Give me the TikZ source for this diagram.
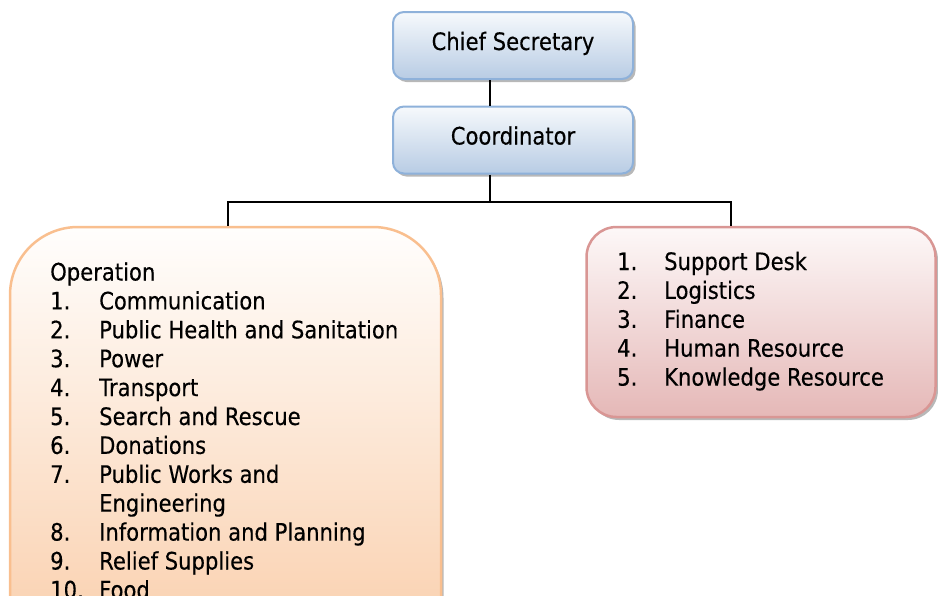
\documentclass[tikz,border=0pt]{standalone}
\usepackage{fontspec}
\setmainfont[FakeStretch=0.88,FakeBold=0.3]{DejaVu Sans}
\usetikzlibrary{shadows}
\definecolor{bluebord}{HTML}{8EB1DA}
\definecolor{bluetop}{HTML}{F6F9FC}
\definecolor{bluebot}{HTML}{B8CCE4}
\definecolor{orabord}{HTML}{F9BF8F}
\definecolor{oratop}{HTML}{FFFEFD}
\definecolor{orabot}{HTML}{F9C9A2}
\definecolor{pinkbord}{HTML}{D99694}
\definecolor{pinktop}{HTML}{FDF8F8}
\definecolor{pinkbot}{HTML}{E5B8B7}
\begin{document}
\begin{tikzpicture}[x=1pt,y=-1pt,
  every node/.style={font=\fontsize{24}{28.9}\selectfont, text=black},
  shadowed/.style={drop shadow={shadow xshift=2.5pt, shadow yshift=-3pt, opacity=0.35, fill=black!80}},
  bluebox/.style={draw=bluebord, line width=2pt, rounded corners=11pt,
    top color=bluetop, bottom color=bluebot, minimum width=240pt, minimum height=67pt,
    inner sep=0pt, text height=17.5pt, text depth=8.5pt, shadowed},
  orabox/.style={draw=orabord, line width=2.5pt, rounded corners=68pt,
    top color=oratop, bottom color=orabot, minimum width=431pt, minimum height=473pt,
    inner sep=0pt, shadowed},
  pinkbox/.style={draw=pinkbord, line width=2.5pt, rounded corners=30pt,
    top color=pinktop, bottom color=pinkbot, minimum width=349pt, minimum height=190pt,
    inner sep=0pt, shadowed},
  listtext/.style={anchor=base west, inner sep=0pt},
  conn/.style={draw=black, line width=1.5pt}
]
\useasboundingbox (0,0) rectangle (938,595);

\node[bluebox] (chief) at (513,45.5) {Chief Secretary};
\node[bluebox] (coord) at (513,140) {Coordinator};
\node[orabox] (ops) at (225.5,463.5) {};
\node[pinkbox] (supp) at (761,322) {};

\coordinate (j) at (490,202);
\coordinate (lt) at (228,202);
\coordinate (rt) at (731,202);

\draw[conn] (chief.south -| j) -- (coord.north -| j);
\draw[conn] (coord.south -| j) -- (j);
\draw[conn] (lt |- ops.north) -- (lt) -- (rt) -- (rt |- supp.north);

\node[listtext] (opstext) at (50,280.5) {%
\begin{tabular}[t]{@{}p{49pt}@{}l@{}}
\multicolumn{2}{@{}l@{}}{Operation}\\
1. & Communication\\
2. & Public Health and Sanitation\\
3. & Power\\
4. & Transport\\
5. & Search and Rescue\\
6. & Donations\\
7. & Public Works and\\
   & Engineering\\
8. & Information and Planning\\
9. & Relief Supplies\\
10. & Food
\end{tabular}};

\node[listtext] (supptext) at (617,270) {%
\begin{tabular}[t]{@{}p{47pt}@{}l@{}}
1. & Support Desk\\
2. & Logistics\\
3. & Finance\\
4. & Human Resource\\
5. & Knowledge Resource
\end{tabular}};
\end{tikzpicture}
\end{document}
